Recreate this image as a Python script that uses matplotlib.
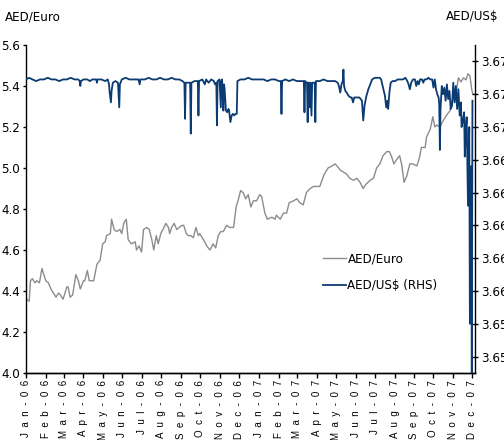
import pandas as pd
import matplotlib.pyplot as plt
import matplotlib.ticker as mticker

plt.rcParams['font.family'] = ['DejaVu Sans']
plt.rcParams['font.stretch'] = 'condensed'

# observation dates are given as days since 1 Jan 2006
start = pd.Timestamp("2006-01-01")

eur_day = [1, 5, 7, 10, 14, 17, 21, 25, 27, 31, 35, 39, 43, 47, 51, 54, 58, 64, 66, 69,
           73, 78, 82, 85, 90, 92, 96, 99, 103, 106, 111, 116, 120, 124, 126, 132, 134, 138, 142, 147,
           150, 153, 157, 160, 165, 171, 173, 177, 181, 184, 189, 193, 197, 200, 204, 207, 211, 216, 219, 223,
           225, 228, 232, 236, 240, 244, 247, 251, 254, 258, 262, 266, 270, 272, 278, 283, 288, 293, 297, 301,
           305, 309, 314, 319, 325, 329, 332, 336, 340, 344, 348, 352, 356, 361, 366, 369, 374, 378, 385, 390,
           392, 398, 403, 408, 412, 419, 424, 429, 434, 439, 445, 450, 455, 460, 467, 473, 479, 484, 487, 492,
           497, 502, 507, 513, 518, 523, 528, 532, 539, 544, 549, 554, 559, 565, 569, 573, 576, 580, 585, 588,
           592, 596, 601, 606, 612, 616, 619, 625, 627, 633, 637, 640, 643, 648, 653, 659, 664, 666, 670, 674,
           677, 681, 685, 689, 692, 695, 698, 700]
eur_val = [4.36, 4.35, 4.45, 4.46, 4.44, 4.45, 4.44, 4.51, 4.49, 4.45, 4.44, 4.41, 4.39, 4.37, 4.39, 4.38, 4.36, 4.42, 4.42, 4.37,
           4.38, 4.48, 4.45, 4.41, 4.45, 4.45, 4.50, 4.45, 4.45, 4.45, 4.53, 4.55, 4.63, 4.64, 4.67, 4.68, 4.75, 4.70, 4.69, 4.70,
           4.68, 4.73, 4.75, 4.65, 4.63, 4.64, 4.60, 4.62, 4.59, 4.70, 4.71, 4.70, 4.65, 4.60, 4.67, 4.63, 4.68, 4.71, 4.73, 4.71,
           4.68, 4.71, 4.73, 4.70, 4.71, 4.72, 4.72, 4.68, 4.67, 4.67, 4.66, 4.71, 4.67, 4.68, 4.65, 4.62, 4.60, 4.63, 4.61, 4.67,
           4.69, 4.69, 4.72, 4.71, 4.71, 4.81, 4.84, 4.89, 4.88, 4.85, 4.87, 4.81, 4.84, 4.84, 4.87, 4.86, 4.78, 4.75, 4.76, 4.75,
           4.77, 4.75, 4.78, 4.78, 4.83, 4.84, 4.85, 4.83, 4.82, 4.88, 4.90, 4.91, 4.91, 4.91, 4.97, 5.00, 5.01, 5.02, 5.01, 4.99,
           4.98, 4.97, 4.95, 4.94, 4.95, 4.93, 4.90, 4.92, 4.94, 4.95, 5.00, 5.02, 5.06, 5.08, 5.08, 5.05, 5.02, 5.04, 5.06, 5.02,
           4.93, 4.96, 5.02, 5.02, 5.01, 5.05, 5.10, 5.10, 5.15, 5.19, 5.25, 5.20, 5.21, 5.20, 5.23, 5.26, 5.28, 5.32, 5.34, 5.38,
           5.44, 5.42, 5.44, 5.43, 5.46, 5.45, 5.38, 5.36]

usd_day = [0, 5, 10, 16, 22, 28, 34, 40, 46, 52, 58, 64, 70, 76, 82, 84, 85, 86, 90, 96,
           100, 104, 110, 111, 112, 118, 124, 128, 130, 131, 133, 134, 136, 140, 144, 146, 147, 150, 156, 162,
           168, 176, 178, 179, 186, 192, 198, 204, 210, 216, 222, 228, 234, 240, 245, 248, 249, 250, 254, 257,
           258, 259, 264, 269, 270, 271, 276, 280, 282, 286, 290, 294, 296, 298, 299, 300, 303, 305, 306, 307,
           309, 310, 311, 313, 315, 317, 318, 320, 322, 324, 326, 328, 330, 331, 336, 342, 348, 354, 360, 366,
           372, 378, 384, 390, 396, 399, 400, 401, 406, 412, 418, 424, 430, 435, 436, 437, 440, 441, 442, 443,
           444, 445, 447, 448, 452, 453, 454, 460, 466, 472, 478, 484, 488, 490, 492, 494, 496, 497, 498, 500,
           502, 505, 508, 510, 512, 514, 518, 522, 524, 526, 528, 530, 533, 536, 539, 542, 546, 550, 554, 556,
           559, 562, 564, 566, 567, 569, 571, 574, 578, 582, 586, 590, 594, 597, 599, 601, 603, 606, 609, 611,
           613, 615, 617, 620, 622, 624, 627, 630, 633, 636, 638, 640, 642, 644, 646, 647, 648, 649, 651, 653,
           655, 657, 659, 661, 663, 665, 667, 669, 671, 673, 675, 677, 679, 681, 682, 684, 686, 687, 689, 690,
           692, 694, 695, 696, 697, 698, 699]
usd_val = [3.6729, 3.6730, 3.6729, 3.6728, 3.6729, 3.6729, 3.6730, 3.6729, 3.6729, 3.6728,
           3.6729, 3.6729, 3.6730, 3.6729, 3.6729, 3.6728, 3.6725, 3.6728, 3.6729, 3.6729,
           3.6728, 3.6729, 3.6729, 3.6727, 3.6729, 3.6729, 3.6728, 3.6729, 3.6726, 3.6721,
           3.6715, 3.6722, 3.6727, 3.6728, 3.6727, 3.6712, 3.6726, 3.6729, 3.6730, 3.6729,
           3.6729, 3.6729, 3.6726, 3.6729, 3.6729, 3.6730, 3.6729, 3.6729, 3.6730, 3.6729,
           3.6729, 3.6730, 3.6729, 3.6729, 3.6728, 3.6727, 3.6705, 3.6727, 3.6727, 3.6727,
           3.6696, 3.6727, 3.6728, 3.6728, 3.6707, 3.6728, 3.6729, 3.6726, 3.6729, 3.6727,
           3.6729, 3.6728, 3.6726, 3.6727, 3.6701, 3.6728, 3.6729, 3.6712, 3.6728, 3.6729,
           3.6710, 3.6726, 3.6723, 3.6710, 3.6709, 3.6711, 3.6710, 3.6703, 3.6707, 3.6708,
           3.6707, 3.6708, 3.6708, 3.6728, 3.6729, 3.6729, 3.6730, 3.6729, 3.6729, 3.6729,
           3.6729, 3.6728, 3.6729, 3.6729, 3.6728, 3.6728, 3.6708, 3.6728, 3.6729, 3.6728,
           3.6729, 3.6728, 3.6728, 3.6728, 3.6709, 3.6728, 3.6727, 3.6703, 3.6727, 3.6727,
           3.6712, 3.6727, 3.6707, 3.6727, 3.6727, 3.6703, 3.6728, 3.6728, 3.6729, 3.6728,
           3.6728, 3.6728, 3.6727, 3.6725, 3.6721, 3.6726, 3.6728, 3.6735, 3.6725, 3.6722,
           3.6721, 3.6719, 3.6718, 3.6718, 3.6715, 3.6718, 3.6718, 3.6718, 3.6717, 3.6716,
           3.6704, 3.6713, 3.6719, 3.6723, 3.6726, 3.6729, 3.6730, 3.6730, 3.6730, 3.6729,
           3.6724, 3.6719, 3.6712, 3.6716, 3.6711, 3.6721, 3.6727, 3.6728, 3.6728, 3.6729,
           3.6729, 3.6729, 3.6730, 3.6728, 3.6726, 3.6723, 3.6727, 3.6729, 3.6729, 3.6725,
           3.6728, 3.6726, 3.6729, 3.6729, 3.6727, 3.6729, 3.6729, 3.6730, 3.6729, 3.6729,
           3.6724, 3.6729, 3.6723, 3.6720, 3.6718, 3.6714, 3.6686, 3.6711, 3.6725, 3.6720,
           3.6724, 3.6716, 3.6726, 3.6717, 3.6722, 3.6711, 3.6713, 3.6727, 3.6715, 3.6725,
           3.6711, 3.6723, 3.6707, 3.6715, 3.6700, 3.6704, 3.6709, 3.6682, 3.6701, 3.6706,
           3.6652, 3.6700, 3.6580, 3.6595, 3.6676, 3.6550, 3.6716]

month_labels = ["Jan-06", "Feb-06", "Mar-06", "Apr-06", "May-06", "Jun-06", "Jul-06", "Aug-06",
                "Sep-06", "Oct-06", "Nov-06", "Dec-06", "Jan-07", "Feb-07", "Mar-07", "Apr-07",
                "May-07", "Jun-07", "Jul-07", "Aug-07", "Sep-07", "Oct-07", "Nov-07", "Dec-07"]

eur_dates = start + pd.to_timedelta(eur_day, unit="D")
usd_dates = start + pd.to_timedelta(usd_day, unit="D")
month_ticks = pd.date_range("2006-01-01", periods=len(month_labels), freq="MS")

fig = plt.figure(figsize=(5.04, 4.40), dpi=100)
ax = fig.add_axes([26 / 504, 1 - 373 / 440, 449 / 504, 328 / 440])
ax2 = ax.twinx()

l1, = ax.plot(eur_dates, eur_val, color="#8c8c8c", lw=1.0, label="AED/Euro")
l2, = ax2.plot(usd_dates, usd_val, color="#0b3b73", lw=1.3, label="AED/US$ (RHS)")

ax.set_xlim(start, start + pd.Timedelta(days=703))
ax.set_ylim(4.0, 5.6)
ax2.set_ylim(3.655, 3.675)
ax.yaxis.set_major_locator(mticker.MultipleLocator(0.2))
ax.yaxis.set_major_formatter(mticker.FormatStrFormatter("%.1f"))
ax2.yaxis.set_major_locator(mticker.MultipleLocator(0.002))
ax2.yaxis.set_major_formatter(mticker.FormatStrFormatter("%.3f"))

ax.set_xticks(month_ticks)
ax.set_xticklabels(["  ".join(m) for m in month_labels], rotation=90,
                   family=["Liberation Sans", "DejaVu Sans"], stretch="normal", fontsize=7)

for a in (ax, ax2):
    a.spines["top"].set_visible(False)
    for s in a.spines.values():
        s.set_linewidth(1.0)
ax.spines["right"].set_visible(False)
ax2.spines["left"].set_visible(False)

ax.tick_params(axis="y", direction="out", length=2.2, width=1, labelsize=9.5, pad=2)
ax.tick_params(axis="x", direction="out", length=3.6, width=1, pad=1.5)
ax2.tick_params(axis="y", direction="inout", length=5, width=1, labelsize=9.5, pad=2)

fig.text(5 / 504, 1 - 17 / 440, "AED/Euro", fontsize=9.5, va="center", ha="left")
fig.text(498 / 504, 1 - 17 / 440, "AED/US$", fontsize=9.5, va="center", ha="right")

ax2.legend(handles=[l1, l2], loc="upper left", bbox_to_anchor=(323 / 504, 1 - 253 / 440),
           bbox_transform=fig.transFigure, frameon=False, fontsize=9.5, borderpad=0,
           borderaxespad=0, handlelength=1.75, handletextpad=0.1, labelspacing=1.0)

fig.savefig("out.png", dpi=100)
